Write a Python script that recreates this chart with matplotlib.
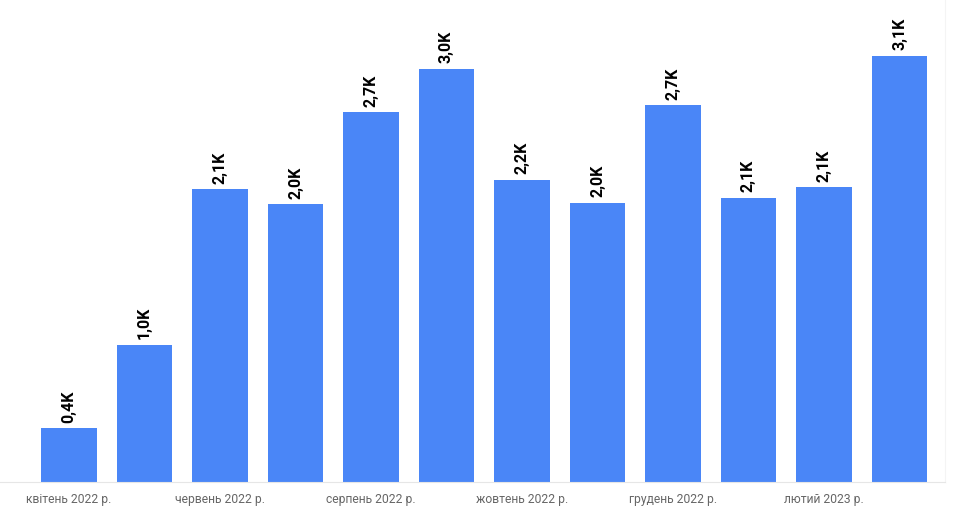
import matplotlib.pyplot as plt

plt.rcParams['font.family'] = ['Roboto', 'DejaVu Sans']

########## data ##########
months = ["квітень 2022 р.", "травень 2022 р.", "червень 2022 р.", "липень 2022 р.",
          "серпень 2022 р.", "вересень 2022 р.", "жовтень 2022 р.", "листопад 2022 р.",
          "грудень 2022 р.", "січень 2023 р.", "лютий 2023 р.", "березень 2023 р."]
values = [390, 1000, 2130, 2020, 2690, 3005, 2200, 2030, 2740, 2070, 2145, 3100]
labels = ["0,4K", "1,0K", "2,1K", "2,0K", "2,7K", "3,0K",
          "2,2K", "2,0K", "2,7K", "2,1K", "2,1K", "3,1K"]

########## figure ##########
W, H = 968, 512
fig = plt.figure(figsize=(W / 100, H / 100), dpi=100)
ax = fig.add_axes([0, 30 / H, 945 / W, 1 - 30 / H])

x = list(range(len(values)))
ax.bar(x, values, width=0.74, color="#4a86f7", zorder=2)

for xi, v, lab in zip(x, values, labels):
    ax.annotate(lab, (xi, v), xytext=(0, 4), textcoords="offset points",
                rotation=90, ha="center", va="bottom",
                fontsize=11.5, fontweight="bold", color="black")

px_per_unit = 75.5
ax.set_xlim(-69 / px_per_unit, (945 - 69) / px_per_unit)
ax.set_ylim(0, 3100 * 482 / 426)

ax.set_xticks(x[::2])
ax.set_xticklabels(months[::2], fontsize=8.7, color="#666666")
ax.tick_params(axis="x", length=0, pad=8)
ax.set_yticks([])

for s in ["top", "left"]:
    ax.spines[s].set_visible(False)
ax.spines["bottom"].set_color("#e6e6e6")
ax.spines["right"].set_color("#f4f4f4")

fig.savefig("out.png", dpi=100)
